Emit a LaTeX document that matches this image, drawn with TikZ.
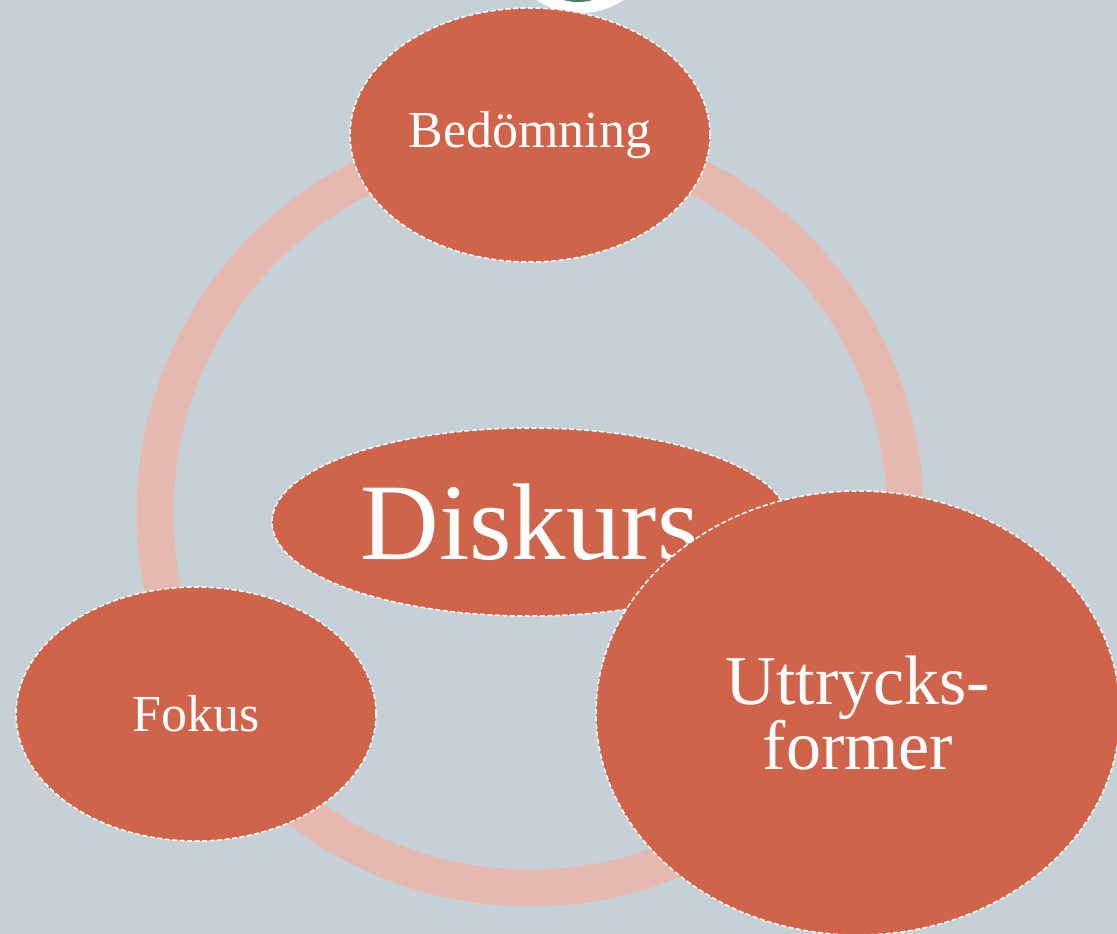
\documentclass[tikz,border=0pt]{standalone}
\usepackage{fontspec}
\setmainfont{Liberation Serif}
\usetikzlibrary{shapes.geometric}
\definecolor{bg}{HTML}{C5D1D7}
\definecolor{ringc}{HTML}{E5B8B0}
\definecolor{blob}{HTML}{D0644A}
\definecolor{tealc}{HTML}{4A7C75}
\tikzset{
  blobnode/.style={ellipse, fill=blob, draw=white, line width=1.5pt,
    dash pattern=on 5pt off 2.5pt, text=white, inner sep=0pt, align=center},
}
\begin{document}
\begin{tikzpicture}[x=1pt,y=-1pt]
\fill[bg] (0,0) rectangle (1117,934);
\useasboundingbox (0,0) rectangle (1117,934);
% partial emblem at top
\begin{scope}
\clip (0,0) rectangle (1117,934);
\fill[white] (580,-47) ellipse [x radius=70, y radius=60];
\fill[tealc] (578,-47) ellipse [x radius=52, y radius=49];
\end{scope}
% ring
\draw[ringc, line width=37pt] (530,513) circle [radius=375];
% nodes
\node[blobnode, minimum width=360pt, minimum height=254pt, font=\fontsize{52}{56}\selectfont] (bed) at (530,135) {Bedömning};
\node[blobnode, minimum width=360pt, minimum height=254pt, font=\fontsize{52}{56}\selectfont] (fok) at (196,714) {Fokus};
\node[blobnode, minimum width=516pt, minimum height=188pt, font=\fontsize{109}{112}\selectfont] (dis) at (530,522) {Diskurs};
\node[blobnode, minimum width=524pt, minimum height=444pt, font=\fontsize{70}{62}\selectfont] (utt) at (858,713) {Uttrycks-\\former};
\end{tikzpicture}
\end{document}
